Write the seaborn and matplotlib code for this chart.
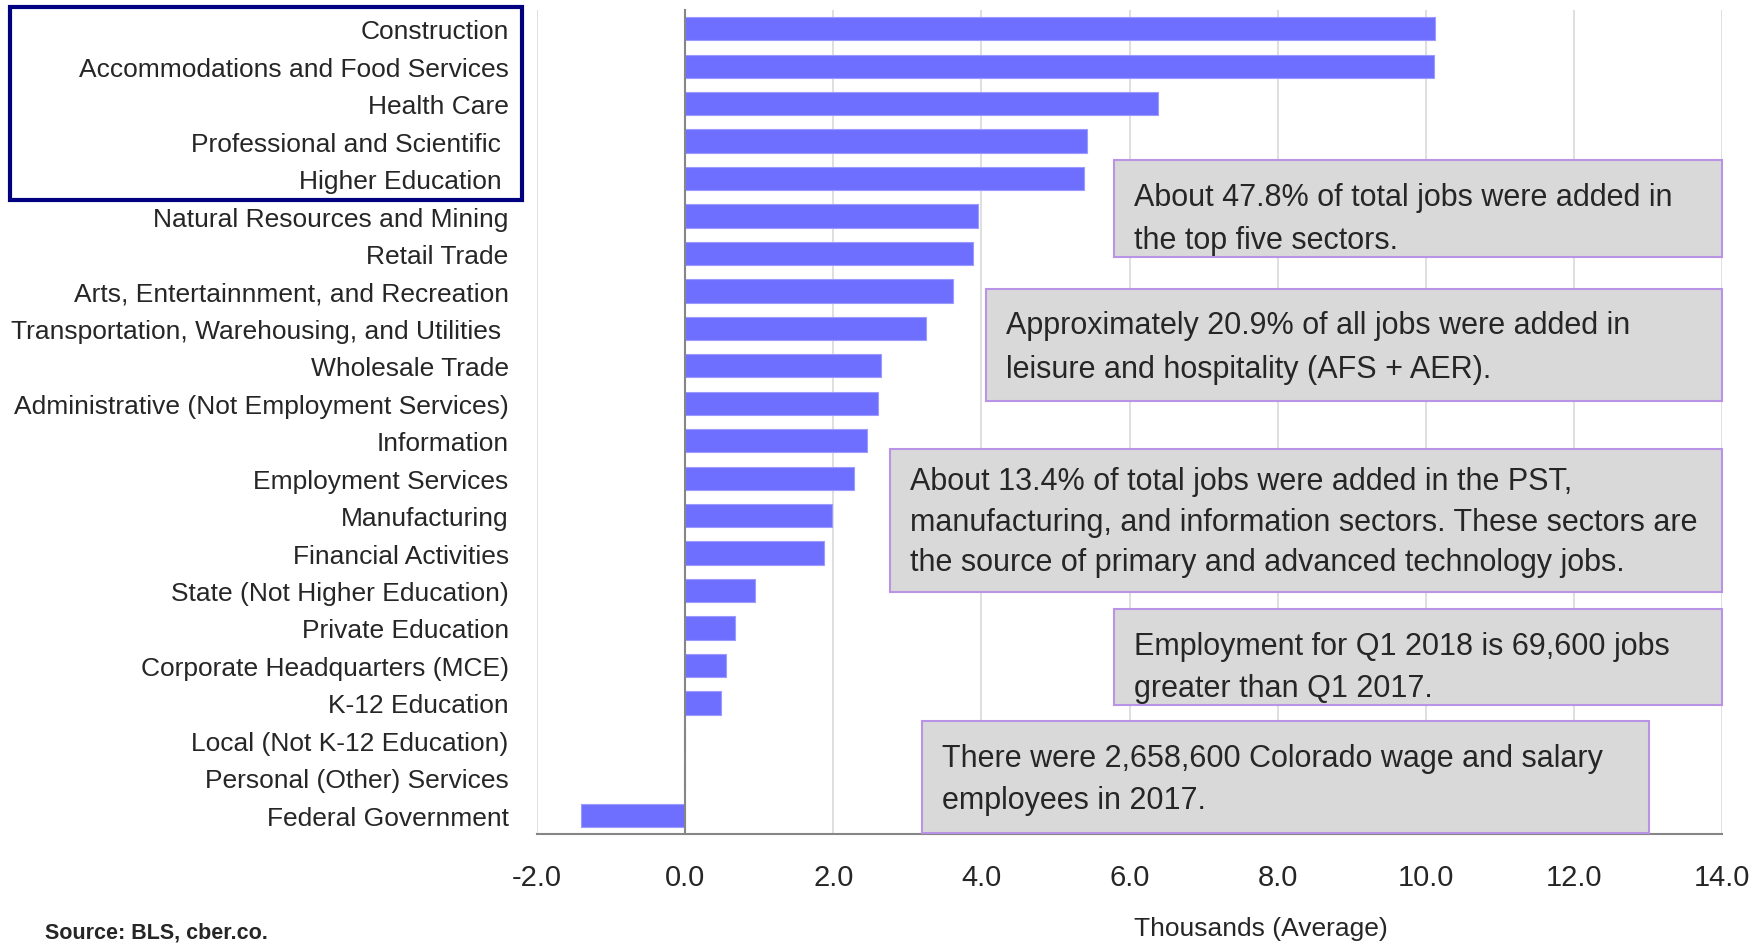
import matplotlib
matplotlib.use("Agg")
import matplotlib.pyplot as plt
from matplotlib.patches import Rectangle
import seaborn as sns

# data (thousands of jobs, average change Q1 2017 -> Q1 2018)
sectors = [
    "Construction",
    "Accommodations and Food Services",
    "Health Care",
    "Professional and Scientific ",
    "Higher Education ",
    "Natural Resources and Mining",
    "Retail Trade",
    "Arts, Entertainnment, and Recreation",
    "Transportation, Warehousing, and Utilities ",
    "Wholesale Trade",
    "Administrative (Not Employment Services)",
    "Information",
    "Employment Services",
    "Manufacturing",
    "Financial Activities",
    "State (Not Higher Education)",
    "Private Education",
    "Corporate Headquarters (MCE)",
    "K-12 Education",
    "Local (Not K-12 Education)",
    "Personal (Other) Services",
    "Federal Government",
]
jobs_added = [10.12, 10.11, 6.38, 5.43, 5.38, 3.95, 3.89, 3.62, 3.25, 2.64, 2.61,
              2.45, 2.28, 1.98, 1.87, 0.94, 0.68, 0.55, 0.49, 0.0, -0.02, -1.40]
x_ticks = [-2.0, 0.0, 2.0, 4.0, 6.0, 8.0, 10.0, 12.0, 14.0]

notes = [
    "About 47.8% of total jobs were added in\nthe top five sectors.",
    "Approximately 20.9% of all jobs were added in\nleisure and hospitality (AFS + AER).",
    "About 13.4% of total jobs were added in the PST,\nmanufacturing, and information sectors. These sectors are\nthe source of primary and advanced technology jobs.",
    "Employment for Q1 2018 is 69,600 jobs\ngreater than Q1 2017.",
    "There were 2,658,600 Colorado wage and salary\nemployees in 2017.",
]
# note boxes in figure pixels: x0, x1, y0 (top), y1 (bottom), text y shift, line spacing
note_boxes = [(1114, 1722, 161, 258, 10, 1.6), (986, 1722, 290, 402, 2, 1.6),
              (890, 1722, 450, 593, 1, 1.45), (1114, 1722, 610, 706, 10, 1.55),
              (922, 1649, 722, 834, 2, 1.55)]

sns.set_style("white")
plt.rcParams["font.family"] = ["Liberation Sans", "DejaVu Sans"]

W, H = 1765, 945
fig = plt.figure(figsize=(W / 100, H / 100), dpi=100)
ax = fig.add_axes([537 / W, 1 - 835 / H, (1722 - 537) / W, (835 - 11) / H])

sns.barplot(x=jobs_added, y=sectors, orient="h", color="#6f6fff", saturation=1,
            width=0.62, edgecolor="#9a9aff", linewidth=0.8, ax=ax, zorder=3)

ax.set_xlim(-2, 14)
ax.set_ylim(len(sectors) - 0.5, -0.5)
ax.set_xticks(x_ticks)
ax.set_xticklabels([f"{t:.1f}" for t in x_ticks], fontsize=21)
ax.grid(axis="x", color="#d9d9d9", linewidth=1.2, zorder=0)
ax.set_axisbelow(True)

for s in ["top", "right"]:
    ax.spines[s].set_visible(False)
ax.spines["left"].set_position(("data", 0))
ax.spines["left"].set_color("#868686")
ax.spines["left"].set_linewidth(1.5)
ax.spines["left"].set_zorder(4)
ax.spines["bottom"].set_color("#868686")
ax.spines["bottom"].set_linewidth(1.5)

ax.set_yticks(range(len(sectors)))
ax.set_yticks([i + 0.5 for i in range(-1, len(sectors))], minor=True)
ax.tick_params(axis="y", which="major", length=0, pad=127, labelsize=19)
ax.tick_params(axis="y", which="minor", length=6, width=1.5, color="#868686", direction="out")
ax.tick_params(axis="x", which="major", length=9, width=1.5, color="#868686",
               direction="out", pad=12)
ax.set_xlabel("")
ax.set_ylabel("")

# notes
for (x0, x1, y0, y1, dy, ls), txt in zip(note_boxes, notes):
    fig.patches.append(Rectangle((x0 / W, 1 - y1 / H), (x1 - x0) / W, (y1 - y0) / H,
                                 transform=fig.transFigure, facecolor="#d9d9d9",
                                 edgecolor="#b994e6", linewidth=1.5, zorder=5))
    fig.text((x0 + 20) / W, 1 - ((y0 + y1) / 2 + dy) / H, txt, fontsize=22, ha="left",
             va="center", linespacing=ls, zorder=6)

# frame around the top five sectors
fig.patches.append(Rectangle((10 / W, 1 - 201 / H), (522 - 10) / W, (201 - 8) / H,
                             transform=fig.transFigure, fill=False,
                             edgecolor="#000080", linewidth=3, zorder=5))

fig.text(1261 / W, 1 - 929 / H, "Thousands (Average)", fontsize=19, ha="center", va="center")
fig.text(45 / W, 1 - 933 / H, "Source: BLS, cber.co.", fontsize=15.5, fontweight="bold",
         ha="left", va="center")

fig.savefig("out.png", dpi=100)
